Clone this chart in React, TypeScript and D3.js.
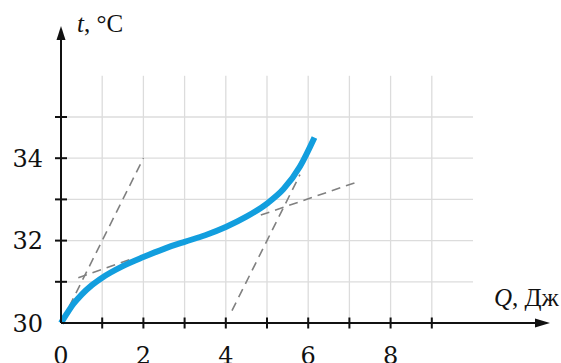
import React, { useEffect, useRef } from 'react';
import * as d3 from 'd3';

// heating curve t(Q)
const curveQ = [0, 0.15, 0.3, 0.5, 0.75, 1, 1.5, 2, 2.5, 3, 3.5, 4, 4.5, 5, 5.4, 5.8, 6.15];
const curveT = [30, 30.24, 30.46, 30.69, 30.92, 31.1, 31.38, 31.6, 31.8, 31.97, 32.13, 32.33, 32.58, 32.9, 33.25, 33.8, 34.5];

// dashed helper lines: [Q1, t1, Q2, t2]
const dashLines = [
    [0.2, 30.4, 2, 34],
    [0.42, 31.1, 1.7, 31.55],
    [4.15, 30.3, 5.8, 33.6],
    [4.85, 32.62, 7.15, 33.41],
];

const xTicks = [1, 2, 3, 4, 5, 6, 7, 8, 9];
const yTicks = [31, 32, 33, 34, 35];
const xLabels = [0, 2, 4, 6, 8];
const yLabels = [30, 32, 34];

function App() {
    const chartRef = useRef<HTMLDivElement>(null);

    useEffect(() => {
        const root = d3.select(chartRef.current);
        root.selectAll('*').remove();

        const svg = root.append('svg')
            .attr('width', 561)
            .attr('height', 363)
            .style('position', 'absolute')
            .style('left', 0)
            .style('top', 0)
            .style('background', '#fff');

        const x = d3.scaleLinear().domain([0, 10]).range([61, 473]);
        const y = d3.scaleLinear().domain([30, 36]).range([323, 75.8]);

        const font = 'DejaVu Serif';
        const titleFont = 'Liberation Serif';

        // grid
        svg.selectAll('line.vg')
            .data(xTicks)
            .enter()
            .append('line')
            .attr('x1', d => x(d)).attr('x2', d => x(d))
            .attr('y1', y(30)).attr('y2', y(36))
            .attr('stroke', '#dcdcdc')
            .attr('stroke-width', 1.3);

        svg.selectAll('line.hg')
            .data(yTicks)
            .enter()
            .append('line')
            .attr('x1', x(0)).attr('x2', x(10))
            .attr('y1', d => y(d)).attr('y2', d => y(d))
            .attr('stroke', '#dcdcdc')
            .attr('stroke-width', 1.3);

        // dashed lines
        svg.selectAll('line.dash')
            .data(dashLines)
            .enter()
            .append('line')
            .attr('x1', d => x(d[0])).attr('y1', d => y(d[1]))
            .attr('x2', d => x(d[2])).attr('y2', d => y(d[3]))
            .attr('stroke', '#808080')
            .attr('stroke-width', 1.6)
            .attr('stroke-dasharray', '9,6');

        // curve
        const pts = curveQ.map((q, i) => [q, curveT[i]] as [number, number]);
        const line = d3.line<[number, number]>()
            .x(d => x(d[0]))
            .y(d => y(d[1]))
            .curve(d3.curveMonotoneX);

        svg.append('path')
            .attr('d', line(pts))
            .attr('fill', 'none')
            .attr('stroke', '#129ede')
            .attr('stroke-width', 6);

        // axes
        svg.append('line')
            .attr('x1', x(0)).attr('x2', 537)
            .attr('y1', y(30)).attr('y2', y(30))
            .attr('stroke', '#111').attr('stroke-width', 2);
        svg.append('path')
            .attr('d', `M550,${y(30)} L535,${y(30) - 4.5} L535,${y(30) + 4.5} Z`)
            .attr('fill', '#111');

        svg.append('line')
            .attr('x1', x(0)).attr('x2', x(0))
            .attr('y1', y(30)).attr('y2', 38)
            .attr('stroke', '#111').attr('stroke-width', 2);
        svg.append('path')
            .attr('d', `M${x(0)},26 L${x(0) - 4.5},40 L${x(0) + 4.5},40 Z`)
            .attr('fill', '#111');

        svg.selectAll('line.xt')
            .data(xTicks)
            .enter()
            .append('line')
            .attr('x1', d => x(d)).attr('x2', d => x(d))
            .attr('y1', y(30) - 5.5).attr('y2', y(30) + 5.5)
            .attr('stroke', '#111').attr('stroke-width', 2);

        svg.selectAll('line.yt')
            .data(yTicks)
            .enter()
            .append('line')
            .attr('x1', x(0) - 6).attr('x2', x(0) + 6)
            .attr('y1', d => y(d)).attr('y2', d => y(d))
            .attr('stroke', '#111').attr('stroke-width', 2);

        // labels
        svg.selectAll('text.xl')
            .data(xLabels)
            .enter()
            .append('text')
            .attr('x', d => x(d))
            .attr('y', 364)
            .attr('text-anchor', 'middle')
            .attr('font-family', font)
            .attr('font-size', 24)
            .attr('fill', '#111')
            .text(d => d);

        svg.selectAll('text.yl')
            .data(yLabels)
            .enter()
            .append('text')
            .attr('x', 43)
            .attr('y', d => y(d) + 8.7)
            .attr('text-anchor', 'end')
            .attr('font-family', font)
            .attr('font-size', 24)
            .attr('fill', '#111')
            .text(d => d);

        const tl = svg.append('text')
            .attr('x', 77).attr('y', 32)
            .attr('font-family', titleFont)
            .attr('font-size', 25)
            .attr('fill', '#111');
        tl.append('tspan').attr('font-style', 'italic').text('t');
        tl.append('tspan').text(', °C');

        const ql = svg.append('text')
            .attr('x', 494).attr('y', 305.5)
            .attr('font-family', titleFont)
            .attr('font-size', 25)
            .attr('fill', '#111');
        ql.append('tspan').attr('font-style', 'italic').text('Q');
        ql.append('tspan').text(', Дж');
    }, []);

    return (
        <div ref={chartRef}></div>
    );
}

export default App;
